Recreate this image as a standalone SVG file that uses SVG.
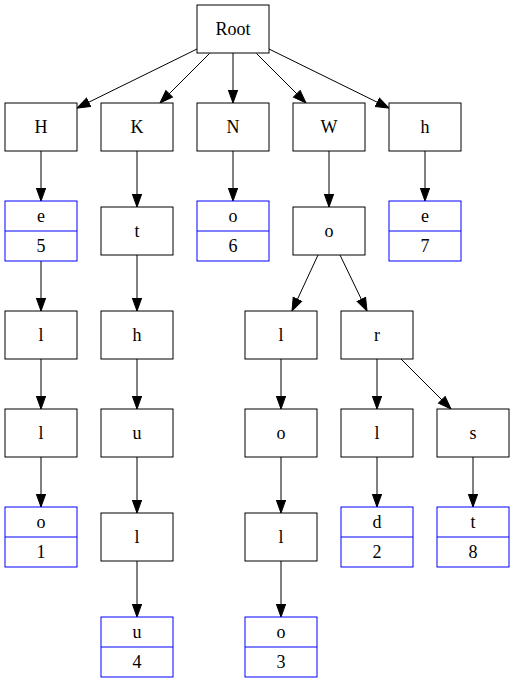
<svg xmlns="http://www.w3.org/2000/svg" width="515" height="684" viewBox="0 0 515 684">
<defs>
<marker id="arr" markerUnits="userSpaceOnUse" markerWidth="15" markerHeight="12" viewBox="0 -6 14 12" refX="13" refY="0" orient="auto">
<path d="M0,-4.7 L13,0 L0,4.7 z" fill="#000" stroke="#000" stroke-width="1"/>
</marker>
</defs>
<style>
rect{fill:#fff;stroke-width:1}
.n rect{stroke:#000}
.r rect,.r line{stroke:#0000ff}
text{font-family:"Liberation Serif","Times New Roman",serif;font-size:18px;text-anchor:middle;fill:#000}
#edges line{stroke:#000;stroke-width:1;marker-end:url(#arr)}
</style>
<rect x="0" y="0" width="515" height="684" fill="#fff" stroke="none"/>
<g id="edges">
<line x1="197" y1="49" x2="77" y2="108"/>
<line x1="209.5" y1="53.5" x2="160" y2="103"/>
<line x1="233" y1="53" x2="233" y2="103"/>
<line x1="256.5" y1="53.5" x2="306" y2="103"/>
<line x1="269" y1="49" x2="389" y2="108"/>
<line x1="41" y1="151" x2="41" y2="201"/>
<line x1="137" y1="151" x2="137" y2="207"/>
<line x1="233" y1="151" x2="233" y2="201"/>
<line x1="329" y1="151" x2="329" y2="207"/>
<line x1="425" y1="151" x2="425" y2="201"/>
<line x1="41" y1="261" x2="41" y2="311"/>
<line x1="137" y1="255" x2="137" y2="311"/>
<line x1="318" y1="255" x2="292" y2="311"/>
<line x1="340" y1="255" x2="367" y2="311"/>
<line x1="41" y1="359" x2="41" y2="409"/>
<line x1="137" y1="359" x2="137" y2="409"/>
<line x1="281" y1="359" x2="281" y2="409"/>
<line x1="377" y1="359" x2="377" y2="409"/>
<line x1="401" y1="359" x2="451" y2="409"/>
<line x1="41" y1="457" x2="41" y2="507"/>
<line x1="137" y1="457" x2="137" y2="513"/>
<line x1="281" y1="457" x2="281" y2="513"/>
<line x1="377" y1="457" x2="377" y2="507"/>
<line x1="473" y1="457" x2="473" y2="507"/>
<line x1="137" y1="561" x2="137" y2="617"/>
<line x1="281" y1="561" x2="281" y2="617"/>
</g>
<g id="root" class="n"><rect x="197" y="5" width="72" height="48"/><text x="233" y="35">Root</text></g>
<g id="H" class="n"><rect x="5" y="103" width="72" height="48"/><text x="41" y="133">H</text></g>
<g id="K" class="n"><rect x="101" y="103" width="72" height="48"/><text x="137" y="133">K</text></g>
<g id="N" class="n"><rect x="197" y="103" width="72" height="48"/><text x="233" y="133">N</text></g>
<g id="W" class="n"><rect x="293" y="103" width="72" height="48"/><text x="329" y="133">W</text></g>
<g id="h" class="n"><rect x="389" y="103" width="72" height="48"/><text x="425" y="133">h</text></g>
<g id="He" class="r"><rect x="5" y="201" width="72" height="60"/><line x1="5" y1="231" x2="77" y2="231"/><text x="41" y="222">e</text><text x="41" y="252">5</text></g>
<g id="Kt" class="n"><rect x="101" y="207" width="72" height="48"/><text x="137" y="237">t</text></g>
<g id="No" class="r"><rect x="197" y="201" width="72" height="60"/><line x1="197" y1="231" x2="269" y2="231"/><text x="233" y="222">o</text><text x="233" y="252">6</text></g>
<g id="Wo" class="n"><rect x="293" y="207" width="72" height="48"/><text x="329" y="237">o</text></g>
<g id="he" class="r"><rect x="389" y="201" width="72" height="60"/><line x1="389" y1="231" x2="461" y2="231"/><text x="425" y="222">e</text><text x="425" y="252">7</text></g>
<g id="Hel" class="n"><rect x="5" y="311" width="72" height="48"/><text x="41" y="341">l</text></g>
<g id="Kth" class="n"><rect x="101" y="311" width="72" height="48"/><text x="137" y="341">h</text></g>
<g id="Wol" class="n"><rect x="245" y="311" width="72" height="48"/><text x="281" y="341">l</text></g>
<g id="Wor" class="n"><rect x="341" y="311" width="72" height="48"/><text x="377" y="341">r</text></g>
<g id="Hell" class="n"><rect x="5" y="409" width="72" height="48"/><text x="41" y="439">l</text></g>
<g id="Kthu" class="n"><rect x="101" y="409" width="72" height="48"/><text x="137" y="439">u</text></g>
<g id="Wolo" class="n"><rect x="245" y="409" width="72" height="48"/><text x="281" y="439">o</text></g>
<g id="Worl" class="n"><rect x="341" y="409" width="72" height="48"/><text x="377" y="439">l</text></g>
<g id="Wors" class="n"><rect x="437" y="409" width="72" height="48"/><text x="473" y="439">s</text></g>
<g id="Hello" class="r"><rect x="5" y="507" width="72" height="60"/><line x1="5" y1="537" x2="77" y2="537"/><text x="41" y="528">o</text><text x="41" y="558">1</text></g>
<g id="Kthul" class="n"><rect x="101" y="513" width="72" height="48"/><text x="137" y="543">l</text></g>
<g id="Wolol" class="n"><rect x="245" y="513" width="72" height="48"/><text x="281" y="543">l</text></g>
<g id="World" class="r"><rect x="341" y="507" width="72" height="60"/><line x1="341" y1="537" x2="413" y2="537"/><text x="377" y="528">d</text><text x="377" y="558">2</text></g>
<g id="Worst" class="r"><rect x="437" y="507" width="72" height="60"/><line x1="437" y1="537" x2="509" y2="537"/><text x="473" y="528">t</text><text x="473" y="558">8</text></g>
<g id="Kthulu" class="r"><rect x="101" y="617" width="72" height="60"/><line x1="101" y1="647" x2="173" y2="647"/><text x="137" y="638">u</text><text x="137" y="668">4</text></g>
<g id="Wololo" class="r"><rect x="245" y="617" width="72" height="60"/><line x1="245" y1="647" x2="317" y2="647"/><text x="281" y="638">o</text><text x="281" y="668">3</text></g>
</svg>
